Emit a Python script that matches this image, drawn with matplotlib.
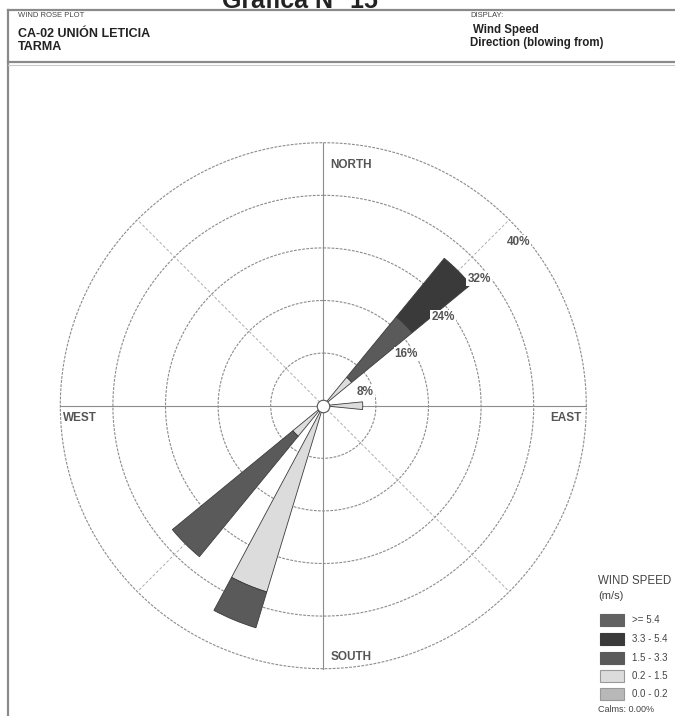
import numpy as np
import matplotlib
matplotlib.use("Agg")
import matplotlib.pyplot as plt
from matplotlib.patches import Rectangle
from matplotlib.lines import Line2D

plt.rcParams['font.family'] = ['Liberation Sans', 'DejaVu Sans']

# 16 compass directions (degrees, clockwise from north), frequency in %
directions = np.arange(16) * 22.5
speed_classes = ["0.0 - 0.2", "0.2 - 1.5", "1.5 - 3.3", "3.3 - 5.4", ">= 5.4"]
#                N  NNE NE   ENE E    ESE SE SSE S  SSW   SW   WSW W WNW NW NNW
f_00_02 = [0, 0, 0.0, 0, 0.0, 0, 0, 0, 0, 0.0, 0.0, 0, 0, 0, 0, 0]
f_02_15 = [0, 0, 5.6, 0, 6.0, 0, 0, 0, 0, 29.6, 6.0, 0, 0, 0, 0, 0]
f_15_33 = [0, 0, 11.9, 0, 0.0, 0, 0, 0, 0, 5.7, 23.7, 0, 0, 0, 0, 0]
f_33_54 = [0, 0, 11.5, 0, 0.0, 0, 0, 0, 0, 0.0, 0.0, 0, 0, 0, 0, 0]
f_ge_54 = [0, 0, 0.0, 0, 0.0, 0, 0, 0, 0, 0.0, 0.0, 0, 0, 0, 0, 0]
class_colors = ["#b8b8b8", "#dcdcdc", "#5a5a5a", "#3a3a3a", "#626262"]
ring_values = [8, 16, 24, 32, 40]
calms = 0.0

W, H = 675, 716
fig = plt.figure(figsize=(W / 100, H / 100), dpi=100)


def fx(x):
    return x / W


def fy(y):
    return 1 - y / H


# frame and header
fig.add_artist(Line2D([fx(8), fx(8)], [fy(10), fy(716)], color="#8a8a8a", lw=1.6))
fig.add_artist(Line2D([fx(8), fx(675)], [fy(10), fy(10)], color="#8a8a8a", lw=1.6))
fig.add_artist(Line2D([fx(8), fx(675)], [fy(62), fy(62)], color="#8a8a8a", lw=1.6))
fig.add_artist(Line2D([fx(8), fx(675)], [fy(64.5), fy(64.5)], color="#c8c8c8", lw=0.8))

fig.text(fx(300), fy(8), "Gráfica N° 15", fontsize=18, fontweight="bold",
         ha="center", va="baseline", color="#222222")
fig.text(fx(18), fy(17), "WIND ROSE PLOT", fontsize=5.5, color="#444444", va="baseline")
fig.text(fx(18), fy(37), "CA-02 UNIÓN LETICIA", fontsize=9, fontweight="bold",
         color="#222222", va="baseline")
fig.text(fx(18), fy(50), "TARMA", fontsize=9, fontweight="bold", color="#222222", va="baseline")
fig.text(fx(470), fy(17), "DISPLAY:", fontsize=5.5, color="#444444", va="baseline")
fig.text(fx(473), fy(33), "Wind Speed", fontsize=8.3, fontweight="bold",
         color="#222222", va="baseline")
fig.text(fx(470), fy(46), "Direction (blowing from)", fontsize=8.3, fontweight="bold",
         color="#222222", va="baseline")

# polar axes: centre (323, 406) px, 263 px = 40 %
cx, cy = 323.3, 405.7
rlim = 41.0
R = 263 * rlim / 40
ax = fig.add_axes([fx(cx - R), fy(cy + R), 2 * R / W, 2 * R / H], projection="polar")
ax.set_theta_zero_location("N")
ax.set_theta_direction(-1)
ax.set_ylim(0, rlim)
ax.set_axis_off()

t = np.linspace(0, 2 * np.pi, 400)
for rv in ring_values:
    ax.plot(t, np.full_like(t, rv), color="#8c8c8c", lw=0.8, ls=(0, (2.5, 1.2)), zorder=1)
for a in [0, 90, 180, 270]:
    ax.plot([np.radians(a)] * 2, [0, 40], color="#8c8c8c", lw=0.8, zorder=1)
for a in [45, 135, 225, 315]:
    ax.plot([np.radians(a)] * 2, [0, 40], color="#b0b0b0", lw=0.7, ls=(0, (3, 2)), zorder=1)

theta = np.radians(directions)
width = np.radians(11.25)
bottom = np.zeros(16)
for vals, col in zip([f_00_02, f_02_15, f_15_33, f_33_54, f_ge_54], class_colors):
    vals = np.array(vals)
    mask = vals > 0
    ax.bar(theta[mask], vals[mask], width=width, bottom=bottom[mask], color=col,
           edgecolor="#3c3c3c", lw=0.6, zorder=3)
    bottom += vals

# calm circle at the centre
ax.plot([0], [0], "o", ms=9, mfc="white", mec="#555555", mew=0.8, zorder=5, clip_on=False)

# ring labels (angle deg, radius %)
ring_label_pos = [(71.6, 6.7), (58, 14.9), (53.4, 22.7), (50.8, 30.6), (50.1, 38.7)]
for rv, (a, r) in zip(ring_values, ring_label_pos):
    ax.text(np.radians(a), r, f"{rv}%", fontsize=8.5, fontweight="bold", color="#555555",
            ha="center", va="center", zorder=6,
            bbox=dict(boxstyle="square,pad=0.1", fc="white", ec="none"))

# compass labels
for name, a, r in [("NORTH", 6.6, 36.9), ("EAST", 92.8, 37.0),
                   ("WEST", 267.2, 37.0), ("SOUTH", 173.6, 38.4)]:
    ax.text(np.radians(a), r, name, fontsize=8.5, fontweight="bold", color="#555555",
            ha="center", va="center", zorder=6)

# legend
fig.text(fx(598), fy(584), "WIND SPEED", fontsize=8.3, color="#444444", va="baseline")
fig.text(fx(598), fy(599), "(m/s)", fontsize=8, color="#444444", va="baseline")
legend_y = [614, 633, 652, 670, 688]
for lab, col, y in zip(speed_classes[::-1], class_colors[::-1], legend_y):
    ec = "#999999" if col in ("#dcdcdc", "#b8b8b8") else col
    fig.add_artist(Rectangle((fx(600), fy(y + 12)), 24 / W, 12 / H, fc=col, ec=ec, lw=0.8))
    fig.text(fx(632), fy(y + 6), lab, fontsize=7, color="#444444", va="center")
fig.text(fx(598), fy(712), f"Calms: {calms:.2f}%", fontsize=6.5, color="#444444", va="baseline")

fig.savefig("out.png", dpi=100, facecolor="white")
